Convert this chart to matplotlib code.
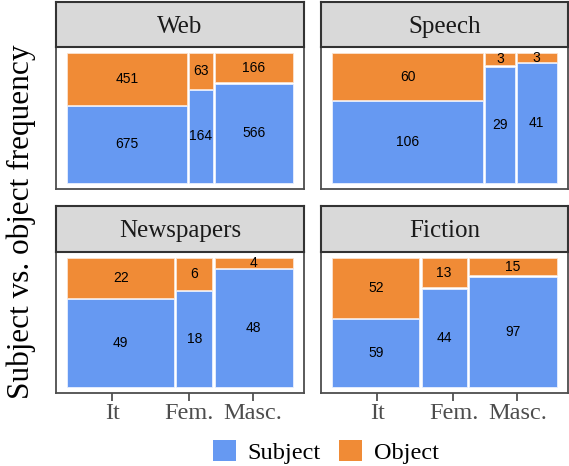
import matplotlib
matplotlib.use("Agg")
import matplotlib.pyplot as plt
from matplotlib.patches import Patch

plt.rcParams['font.family'] = ['Liberation Serif', 'DejaVu Serif']

# counts
categories = ['It', 'Fem.', 'Masc.']
facets = ['Web', 'Speech', 'Newspapers', 'Fiction']
web_subj = [675, 164, 566]
web_obj = [451, 63, 166]
speech_subj = [106, 29, 41]
speech_obj = [60, 3, 3]
news_subj = [49, 18, 48]
news_obj = [22, 6, 4]
fiction_subj = [59, 44, 97]
fiction_obj = [52, 13, 15]
# x tick positions (shared axis)
tick_pos = [0.2, 0.54, 0.824]

subj_color = '#6699F2'
obj_color = '#F08B36'
offset = 0.01

W, H = 569, 466
fig = plt.figure(figsize=(W / 100, H / 100), dpi=100)


def px_axes(x0, y0, x1, y1):
    return fig.add_axes([x0 / W, 1 - y1 / H, (x1 - x0) / W, (y1 - y0) / H])


def draw_mosaic(ax, subj, obj):
    totals = [s + o for s, o in zip(subj, obj)]
    N = sum(totals)
    avail = 1 - offset * (len(totals) - 1)
    x = 0.0
    for s, o, t in zip(subj, obj, totals):
        w = avail * t / N
        hs = (1 - offset) * s / t
        ho = (1 - offset) * o / t
        ax.bar(x, hs, width=w, bottom=0, align='edge', color=subj_color,
               edgecolor='#E8F0FF', linewidth=0.6)
        ax.bar(x, ho, width=w, bottom=hs + offset, align='edge', color=obj_color,
               edgecolor='#FBE3CF', linewidth=0.6)
        ax.text(x + w / 2, hs / 2, str(s), ha='center', va='center',
                fontsize=10, family='Liberation Sans', color='black')
        ax.text(x + w / 2, hs + offset + ho / 2, str(o), ha='center', va='center',
                fontsize=10, family='Liberation Sans', color='black')
        x += w + offset
    ax.set_xlim(-0.05, 1.05)
    ax.set_ylim(-0.05, 1.05)
    ax.set_yticks([])
    for sp in ax.spines.values():
        sp.set_color('#4D4D4D')
        sp.set_linewidth(1.3)


def draw_strip(x0, y0, x1, y1, label):
    sax = px_axes(x0, y0, x1, y1)
    sax.set_facecolor('#D9D9D9')
    sax.set_xticks([])
    sax.set_yticks([])
    for sp in sax.spines.values():
        sp.set_color('#333333')
        sp.set_linewidth(1.5)
    sax.text(0.5, 0.45, label, ha='center', va='center', fontsize=18,
             color='#1A1A1A', transform=sax.transAxes)


data = [(web_subj, web_obj), (speech_subj, speech_obj),
        (news_subj, news_obj), (fiction_subj, fiction_obj)]
cols = [(56, 304), (321, 568)]
rows = [(2, 47, 189), (206, 252, 393)]

for i, (name, (subj, obj)) in enumerate(zip(facets, data)):
    r, c = divmod(i, 2)
    x0, x1 = cols[c]
    st, pt, pb = rows[r]
    ax = px_axes(x0, pt, x1, pb)
    draw_mosaic(ax, subj, obj)
    draw_strip(x0, st, x1, pt, name)
    if r == 1:
        ax.set_xticks(tick_pos)
        ax.set_xticklabels(categories, fontsize=17.5, color='#4D4D4D')
        ax.tick_params(axis='x', length=6, width=1.1, color='#333333', pad=1.5)
    else:
        ax.set_xticks([])

fig.text(21 / W, 1 - 222 / H, 'Subject vs. object frequency', rotation=90,
         ha='center', va='center', fontsize=22.5)

handles = [Patch(facecolor=subj_color, label='Subject'),
           Patch(facecolor=obj_color, label='Object')]
fig.legend(handles=handles, loc='center', ncol=2, frameon=False,
           bbox_to_anchor=(326 / W, 1 - 452 / H), fontsize=17.5,
           handlelength=0.95, handleheight=0.95, handletextpad=0.5,
           columnspacing=0.75, borderaxespad=0)

fig.savefig('out.png', dpi=100)
